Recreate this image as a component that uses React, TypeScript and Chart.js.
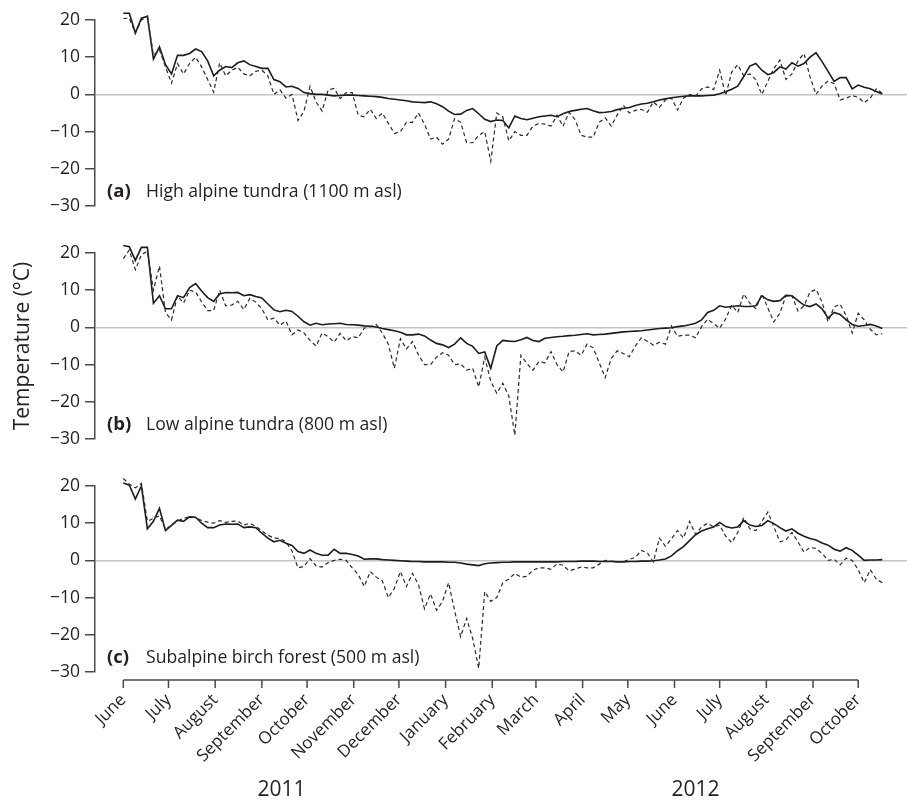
import React, { useEffect, useRef } from 'react';
import { Chart, registerables } from 'chart.js';

Chart.register(...registerables);

// ---------- data (days since 1 June 2011, temperature in °C) ----------
const days = [
  0, 4, 8, 12, 16, 20, 24, 28, 32, 36,
  40, 44, 48, 52, 56, 60, 64, 68, 72, 76,
  80, 84, 88, 92, 96, 100, 104, 108, 112, 116,
  120, 124, 128, 132, 136, 140, 144, 148, 152, 156,
  160, 164, 168, 172, 176, 180, 184, 188, 192, 196,
  200, 204, 208, 212, 216, 220, 224, 228, 232, 236,
  240, 244, 248, 252, 256, 260, 264, 268, 272, 276,
  280, 284, 288, 292, 296, 300, 304, 308, 312, 316,
  320, 324, 328, 332, 336, 340, 344, 348, 352, 356,
  360, 364, 368, 372, 376, 380, 384, 388, 392, 396,
  400, 404, 408, 412, 416, 420, 424, 428, 432, 436,
  440, 444, 448, 452, 456, 460, 464, 468, 472, 476,
  480, 484, 488, 492, 496, 500, 504,
];

const highSolid = [
  21.8, 21.8, 16.5, 20.5, 21, 9.5, 12.8, 8, 5.5, 10.5,
  10.5, 11, 12.2, 11.5, 9, 5, 6.5, 7.5, 7.2, 8.5,
  9, 8, 7.5, 7, 7, 4, 3.4, 2, 2.2, 1.6,
  0.5, 0.2, 0, 0, -0.2, -0.4, -0.3, -0.2, -0.2, -0.3,
  -0.4, -0.5, -0.6, -0.8, -1.1, -1.3, -1.5, -1.7, -2, -2.1,
  -2.2, -2, -2.5, -3.3, -4.5, -5.4, -5.3, -4.3, -3.8, -5.2,
  -6.7, -7.3, -6.9, -7, -9, -5.8, -6.5, -6.8, -6.4, -6,
  -5.8, -5.6, -6, -5.2, -4.6, -4.3, -4, -3.8, -4.4, -4.9,
  -4.8, -4.6, -4.1, -3.8, -3.5, -3, -2.6, -2.4, -2, -1.5,
  -1.2, -0.9, -0.7, -0.5, -0.4, -0.4, -0.4, -0.3, -0.2, 0.2,
  0.7, 1.4, 2.2, 4.8, 7.6, 8.3, 6.5, 5.3, 5.9, 7.4,
  6.8, 8.5, 7.6, 8.3, 10, 11.2, 8.8, 6.2, 3.5, 4.5,
  4.5, 1.5, 2.5, 1.9, 1.5, 0.8, 0.1,
];

const highDashed = [
  20.4, 20.5, 16.5, 20, 21, 10.5, 12, 7.4, 3, 8.3,
  5.5, 8.3, 10, 7.4, 4, 0.6, 8.5, 5, 6.5, 7.3,
  5.5, 5, 6.2, 6.5, 5, 0, 1.2, -1, 0, -7,
  -4.5, 2.2, -2, -4.5, 1.2, 1.6, -1.1, 0.5, 0.5, -5.6,
  -6, -4, -6.5, -5, -7.8, -10.5, -10, -7.5, -7.5, -5,
  -8, -12, -11.5, -13.4, -12, -6.5, -7.5, -13, -13, -11,
  -10, -18, -5, -6, -12.5, -10, -11, -11, -8.5, -7.8,
  -8, -8.5, -5.6, -8.6, -4.8, -6.8, -11, -11.5, -11.5, -7.5,
  -6.3, -8.5, -5.5, -2.9, -5, -4.3, -4, -4.8, -2, -3.5,
  -1.5, -1, -4.2, -1, 0, -0.5, 1.5, 2, 1.3, 6.5,
  -0.3, 6, 8, 5, 5.5, 4, 0, 3.5, 7, 9.2,
  4, 5.5, 9, 11, 4.7, 0, 2.3, 3.6, 2.9, -1.5,
  -1, -0.3, -0.8, -2.2, -1, 1.5, 0.3,
];

const lowSolid = [
  22, 21.7, 18, 21.5, 21.5, 6.5, 8.5, 5, 5, 8.5,
  8, 10.7, 11.8, 9.8, 8, 7, 9, 9.4, 9.3, 9.4,
  8.5, 8.8, 8.3, 7.9, 6.3, 4.7, 4.2, 4.6, 4.3, 3,
  1.5, 0.6, 1.1, 0.7, 0.9, 1, 1.1, 0.8, 0.7, 0.6,
  0.4, 0.3, 0.1, -0.3, -0.6, -0.9, -1.3, -2, -2, -1.8,
  -2.3, -3.4, -4.3, -4.7, -5.4, -4.5, -2.8, -4.3, -5.1, -7,
  -6.6, -11, -5, -3.5, -3.7, -3.8, -3.3, -2.7, -3.5, -3.8,
  -2.9, -2.7, -2.5, -2.4, -2.2, -2.1, -1.9, -1.7, -2, -1.9,
  -1.8, -1.6, -1.4, -1.2, -1.1, -1, -0.9, -0.7, -0.5, -0.3,
  -0.2, -0.1, 0.2, 0.4, 0.7, 1.1, 2, 4, 4.6, 5.8,
  5.4, 5.6, 5.8, 5.6, 5.6, 5.8, 8.5, 7.4, 7, 7.2,
  8.6, 8.5, 7.2, 6, 5.6, 6.3, 5, 2.5, 4, 3.5,
  2, 0.8, 0.3, 0.5, 0.8, 0.4, -0.3,
];

const lowDashed = [
  18.5, 20.8, 15.5, 19.5, 20.5, 10, 16.5, 4, 2, 8.5,
  6.5, 10, 9.5, 6.9, 4.5, 4.5, 10, 5.8, 6, 7,
  4.8, 7.8, 6.8, 5, 2, 2.5, 0.6, 1.7, -2, -0.7,
  -1.5, -3.5, -5, -1.5, -2.5, -4, -1.6, -3.6, -2.5, -2.8,
  -0.2, 0.2, 0.8, -1.5, -4.5, -11, -3, -5.8, -3.8, -7.4,
  -10, -10, -8, -6.8, -7.5, -10, -9.8, -11.5, -11, -16,
  -8, -14.5, -17.7, -15, -18.5, -29, -7.5, -9.7, -11.5, -9.2,
  -9.5, -6.5, -10, -12, -6.5, -6.3, -7.5, -4.5, -5.5, -9.5,
  -13.5, -8.3, -6.3, -7, -7.9, -5, -2.8, -3.7, -4.8, -4,
  -4.5, 0.4, -2.4, -2.1, -2.1, -2.8, 0.2, 2.2, 1, -0.2,
  2.3, 6, 4, 9, 6.5, 5, 9, 5.2, 1.5, 3.8,
  8.5, 8.5, 4.4, 5.8, 9.5, 10.2, 6.8, 1.5, 5.5, 6.2,
  3.2, -1.5, 3.8, 2, -0.5, -2, -1.7,
];

const birchSolid = [
  20.8, 20.2, 16.5, 20, 8.5, 10.5, 14, 8, 9.4, 10.8,
  10.5, 11.7, 11.6, 10, 8.8, 8.8, 9.5, 9.8, 9.7, 9.8,
  8.8, 9, 8.8, 7.3, 6, 5, 5.4, 4.6, 4, 2.4,
  1.9, 2.8, 1.9, 1.4, 1.4, 3, 1.9, 1.9, 1.6, 1.2,
  0.3, 0.4, 0.4, 0.2, 0.1, 0, -0.1, -0.2, -0.3, -0.3,
  -0.4, -0.4, -0.4, -0.4, -0.5, -0.5, -0.7, -1, -1.2, -1.4,
  -0.9, -0.7, -0.6, -0.5, -0.5, -0.4, -0.4, -0.4, -0.4, -0.4,
  -0.4, -0.4, -0.4, -0.3, -0.3, -0.3, -0.2, -0.2, -0.2, -0.3,
  -0.3, -0.3, -0.4, -0.4, -0.3, -0.3, -0.2, -0.2, -0.1, 0.1,
  0.4, 1.2, 2.6, 3.7, 5.3, 6.9, 7.9, 8.5, 9, 10.2,
  9.1, 8.7, 9, 10.7, 9.5, 9.1, 9.4, 10.7, 9.9, 8.8,
  7.9, 8.5, 7.3, 6.5, 5.9, 5.5, 4.7, 4.1, 3, 2.5,
  3.4, 2.7, 1.4, 0, 0.1, 0.1, 0.2,
];

const birchDashed = [
  22, 20.5, 19.5, 20.7, 10.5, 11.3, 12, 8.3, 9.5, 10.6,
  11.3, 11.7, 11.5, 10.7, 10.3, 10, 10.7, 10.2, 10.5, 10.6,
  9.5, 10, 9.1, 7.9, 6.8, 6, 5.9, 5, 2.5, -2,
  -1.6, 0.5, -1.5, -1.8, -0.6, 0, 0.3, 0, -2, -3.8,
  -7, -3, -4.5, -5.5, -10, -7.5, -3, -7, -3.5, -6.5,
  -13, -9, -13.4, -11, -6, -13.5, -20.5, -15.6, -21, -29,
  -8.4, -11, -10, -6, -5, -3.5, -4.5, -4.3, -2.6, -2,
  -2, -2.4, -0.9, -1.3, -2.8, -2.3, -1.8, -2, -2, -1,
  0, -0.2, -0.3, -0.4, 0.3, 0.8, 2.7, 2, -0.4, 6,
  3.8, 5.8, 8, 6, 10.5, 7, 9, 10, 9, 9.5,
  6.5, 4.8, 7.5, 11.5, 8.5, 8, 10.5, 13, 9, 5,
  5.5, 7.5, 5, 2.2, 3.5, 3.2, 1.9, 0, 0.3, -1.2,
  0.6, 0, -2.5, -6, -2.5, -5, -6,
];

const monthDays = [0, 30, 61, 92, 122, 153, 183, 214, 245, 274, 305, 335, 366, 396, 427, 458, 488];
const monthLabels = [
  'June', 'July', 'August', 'September', 'October', 'November', 'December',
  'January', 'February', 'March', 'April', 'May', 'June', 'July', 'August',
  'September', 'October',
];
const yearLabels = ['2011', '2012'];
const yearCenterDays = [105, 380];

// ---------- style ----------
const FONT = "'Open Sans', 'DejaVu Sans', sans-serif";
const TEXT = '#231f20';
const AXIS = '#4a4a4a';
const X_MIN = -18.8;
const X_MAX = 520.4;

const panelLabelPlugin = {
  id: 'panelLabel',
  afterDraw(chart: any, _args: any, opts: any) {
    const { ctx, chartArea } = chart;
    ctx.save();
    ctx.fillStyle = TEXT;
    ctx.textBaseline = 'alphabetic';
    ctx.textAlign = 'left';
    ctx.font = `bold 18.5px ${FONT}`;
    ctx.fillText(opts.tag, chartArea.left + 12, chartArea.bottom - 9);
    ctx.font = `17.6px ${FONT}`;
    ctx.fillText(opts.text, chartArea.left + 51, chartArea.bottom - 9);
    ctx.restore();
  },
};

const xAxisPlugin = {
  id: 'xAxisLine',
  afterDraw(chart: any) {
    const xs = chart.scales.x;
    const { ctx, chartArea } = chart;
    const y0 = chartArea.bottom + 8;
    const px = monthDays.map((d) => xs.getPixelForValue(d));
    ctx.save();
    ctx.strokeStyle = AXIS;
    ctx.lineWidth = 1.5;
    ctx.beginPath();
    ctx.moveTo(px[0], y0);
    ctx.lineTo(px[px.length - 1], y0);
    px.forEach((p) => {
      ctx.moveTo(p, y0);
      ctx.lineTo(p, y0 + 8);
    });
    ctx.stroke();
    ctx.fillStyle = TEXT;
    ctx.font = `21px ${FONT}`;
    ctx.textAlign = 'center';
    ctx.textBaseline = 'alphabetic';
    yearLabels.forEach((t, i) => {
      ctx.fillText(t, xs.getPixelForValue(yearCenterDays[i]), chartArea.bottom + 124);
    });
    ctx.restore();
  },
};

function toPoints(vals: number[]) {
  return days.map((d, i) => ({ x: d, y: vals[i] }));
}

function panelConfig(solid: number[], dashed: number[], tag: string, text: string, showX: boolean, showTitle: boolean): any {
  return {
    type: 'line',
    data: {
      datasets: [
        {
          data: toPoints(dashed),
          borderColor: '#2a2a2a',
          borderWidth: 1.2,
          borderDash: [4, 3],
          pointRadius: 0,
          fill: false,
          tension: 0,
          clip: false,
        },
        {
          data: toPoints(solid),
          borderColor: '#1c1c1c',
          borderWidth: 1.6,
          pointRadius: 0,
          fill: false,
          tension: 0,
          clip: false,
        },
      ],
    },
    options: {
      animation: false,
      responsive: false,
      events: [],
      layout: { padding: { top: 20, bottom: showX ? 0 : 24, left: 0, right: 0 } },
      plugins: {
        legend: { display: false },
        tooltip: { enabled: false },
        panelLabel: { tag, text },
      },
      scales: {
        x: {
          type: 'linear',
          min: X_MIN,
          max: X_MAX,
          display: showX,
          position: 'bottom',
          afterBuildTicks: (s: any) => {
            s.ticks = monthDays.map((v) => ({ value: v }));
          },
          afterFit: (s: any) => {
            if (showX) {
              s.height = 128;
              s.paddingLeft = 0;
              s.paddingRight = 0;
            }
          },
          border: { display: false },
          grid: {
            display: true,
            drawOnChartArea: false,
            drawTicks: true,
            tickLength: 16,
            color: 'rgba(0,0,0,0)',
          },
          ticks: {
            autoSkip: false,
            maxRotation: 45,
            minRotation: 45,
            padding: 2,
            color: TEXT,
            font: { family: FONT, size: 17 },
            callback: (_v: any, i: number) => monthLabels[i],
          },
        },
        y: {
          min: -30,
          max: 20,
          afterFit: (s: any) => {
            s.width = 95;
          },
          border: { display: true, color: AXIS, width: 1.5 },
          grid: {
            color: (c: any) => (c.tick && c.tick.value === 0 ? '#c4c4c4' : 'rgba(0,0,0,0)'),
            lineWidth: 1.5,
            drawTicks: true,
            tickLength: 10,
            tickColor: AXIS,
            tickWidth: 1.5,
          },
          ticks: {
            stepSize: 10,
            padding: 5,
            color: TEXT,
            font: { family: FONT, size: 17.5 },
            callback: (v: any) => String(v).replace('-', '\u2212'),
          },
          title: {
            display: showTitle,
            text: 'Temperature (°C)',
            color: TEXT,
            font: { family: FONT, size: 21 },
            padding: { top: 10, bottom: 0 },
          },
        },
      },
    },
    plugins: showX ? [panelLabelPlugin, xAxisPlugin] : [panelLabelPlugin],
  };
}

export default function App() {
  const refA = useRef<HTMLCanvasElement>(null);
  const refB = useRef<HTMLCanvasElement>(null);
  const refC = useRef<HTMLCanvasElement>(null);

  useEffect(() => {
    const charts: Chart[] = [];
    if (refA.current)
      charts.push(new Chart(refA.current, panelConfig(highSolid, highDashed, '(a)', 'High alpine tundra (1100 m asl)', false, false)));
    if (refB.current)
      charts.push(new Chart(refB.current, panelConfig(lowSolid, lowDashed, '(b)', 'Low alpine tundra (800 m asl)', false, true)));
    if (refC.current)
      charts.push(new Chart(refC.current, panelConfig(birchSolid, birchDashed, '(c)', 'Subalpine birch forest (500 m asl)', true, false)));
    return () => charts.forEach((c) => c.destroy());
  }, []);

  const canvasStyle = (top: number): React.CSSProperties => ({
    position: 'absolute',
    left: 0,
    top,
    display: 'block',
  });

  return (
    <div style={{ position: 'absolute', left: 0, top: 0, width: 907, height: 800, background: '#fff', overflow: 'hidden' }}>
      <canvas ref={refA} width={907} height={230} style={canvasStyle(0)} />
      <canvas ref={refB} width={907} height={230} style={canvasStyle(233)} />
      <canvas ref={refC} width={907} height={334} style={canvasStyle(466)} />
    </div>
  );
}
